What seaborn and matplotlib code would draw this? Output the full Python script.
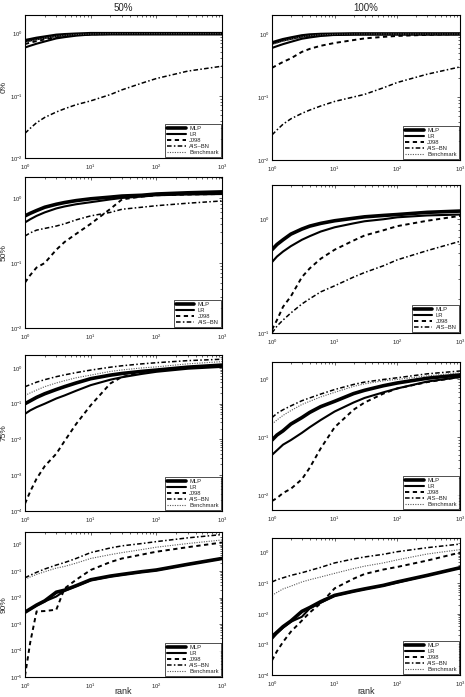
import pandas as pd
import seaborn as sns
import matplotlib
matplotlib.use('Agg')
import matplotlib.pyplot as plt
from matplotlib.ticker import LogLocator, NullFormatter

# values (rank on x, y on log scale)
ranks = [1, 1.2, 1.5, 2, 3, 4, 6, 10, 20, 30, 60, 100, 300, 1000]
col_titles = ['50%', '100%']
row_labels = ['0%', '50%', '75%', '90%']

# row 0%
mlp_0_50 = [0.77, 0.80, 0.84, 0.88, 0.94, 0.96, 0.98, 1.0, 1.0, 1.0, 1.0, 1.0, 1.0, 1.0]
lr_0_50 = [0.60, 0.64, 0.69, 0.75, 0.84, 0.88, 0.93, 0.97, 0.99, 1.0, 1.0, 1.0, 1.0, 1.0]
jj_0_50 = [0.68, 0.72, 0.76, 0.81, 0.88, 0.92, 0.95, 0.98, 0.99, 1.0, 1.0, 1.0, 1.0, 1.0]
ais_0_50 = [0.025, 0.03, 0.037, 0.045, 0.055, 0.062, 0.072, 0.083, 0.105, 0.125, 0.16, 0.19, 0.25, 0.30]
bench_0_50 = [0.72, 0.76, 0.80, 0.85, 0.91, 0.94, 0.97, 0.99, 1.0, 1.0, 1.0, 1.0, 1.0, 1.0]

mlp_0_100 = [0.72, 0.76, 0.81, 0.86, 0.93, 0.96, 0.98, 0.99, 1.0, 1.0, 1.0, 1.0, 1.0, 1.0]
lr_0_100 = [0.60, 0.64, 0.69, 0.75, 0.84, 0.88, 0.93, 0.97, 0.99, 1.0, 1.0, 1.0, 1.0, 1.0]
jj_0_100 = [0.29, 0.32, 0.36, 0.41, 0.52, 0.58, 0.65, 0.72, 0.80, 0.85, 0.90, 0.93, 0.97, 1.0]
ais_0_100 = [0.025, 0.03, 0.037, 0.045, 0.055, 0.062, 0.072, 0.085, 0.10, 0.11, 0.14, 0.17, 0.23, 0.30]
bench_0_100 = [0.68, 0.72, 0.77, 0.83, 0.90, 0.94, 0.97, 0.99, 1.0, 1.0, 1.0, 1.0, 1.0, 1.0]

# row 50%
mlp_50_50 = [0.53, 0.58, 0.64, 0.72, 0.80, 0.85, 0.91, 0.97, 1.03, 1.07, 1.10, 1.15, 1.20, 1.24]
lr_50_50 = [0.42, 0.47, 0.53, 0.60, 0.69, 0.74, 0.80, 0.86, 0.95, 1.0, 1.05, 1.10, 1.13, 1.15]
jj_50_50 = [0.05, 0.065, 0.085, 0.10, 0.16, 0.21, 0.28, 0.40, 0.68, 0.95, 1.05, 1.10, 1.13, 1.15]
ais_50_50 = [0.26, 0.29, 0.32, 0.34, 0.37, 0.40, 0.46, 0.53, 0.60, 0.67, 0.72, 0.76, 0.83, 0.90]

mlp_50_100 = [0.54, 0.60, 0.66, 0.74, 0.82, 0.87, 0.92, 0.97, 1.02, 1.05, 1.08, 1.10, 1.15, 1.18]
lr_50_100 = [0.42, 0.47, 0.52, 0.58, 0.66, 0.71, 0.78, 0.85, 0.92, 0.96, 1.0, 1.04, 1.08, 1.10]
jj_50_100 = [0.107, 0.13, 0.17, 0.21, 0.31, 0.37, 0.45, 0.54, 0.65, 0.72, 0.80, 0.87, 0.97, 1.07]
ais_50_100 = [0.10, 0.115, 0.13, 0.15, 0.18, 0.20, 0.23, 0.26, 0.31, 0.34, 0.39, 0.44, 0.53, 0.64]

# row 75%
mlp_75_50 = [0.10, 0.12, 0.15, 0.19, 0.25, 0.30, 0.38, 0.50, 0.63, 0.70, 0.80, 0.87, 1.05, 1.20]
lr_75_50 = [0.052, 0.065, 0.08, 0.10, 0.14, 0.17, 0.23, 0.33, 0.47, 0.55, 0.68, 0.78, 0.95, 1.07]
jj_75_50 = [1.6e-4, 3.5e-4, 8e-4, 0.0018, 0.004, 0.009, 0.027, 0.09, 0.37, 0.56, 0.75, 0.87, 1.05, 1.20]
ais_75_50 = [0.30, 0.34, 0.40, 0.47, 0.57, 0.64, 0.74, 0.87, 1.05, 1.15, 1.30, 1.40, 1.60, 1.75]
bench_75_50 = [0.17, 0.20, 0.24, 0.30, 0.38, 0.44, 0.53, 0.63, 0.80, 0.88, 1.0, 1.07, 1.30, 1.50]

mlp_75_100 = [0.09, 0.11, 0.13, 0.17, 0.22, 0.27, 0.34, 0.42, 0.57, 0.65, 0.78, 0.87, 1.05, 1.20]
lr_75_100 = [0.05, 0.06, 0.075, 0.09, 0.12, 0.15, 0.20, 0.28, 0.40, 0.48, 0.60, 0.70, 0.92, 1.10]
jj_75_100 = [0.008, 0.009, 0.011, 0.013, 0.019, 0.03, 0.065, 0.15, 0.30, 0.40, 0.57, 0.70, 0.90, 1.10]
ais_75_100 = [0.22, 0.26, 0.30, 0.35, 0.43, 0.48, 0.56, 0.67, 0.82, 0.90, 1.0, 1.07, 1.25, 1.40]
bench_75_100 = [0.17, 0.20, 0.24, 0.29, 0.37, 0.42, 0.50, 0.60, 0.76, 0.84, 0.95, 1.0, 1.15, 1.30]

# row 90%
mlp_90_50 = [0.0028, 0.0037, 0.0052, 0.0075, 0.016, 0.019, 0.028, 0.047, 0.065, 0.075, 0.095, 0.11, 0.18, 0.30]
lr_90_50 = [0.0028, 0.0036, 0.005, 0.0072, 0.011, 0.018, 0.027, 0.045, 0.063, 0.073, 0.093, 0.108, 0.18, 0.30]
jj_90_50 = [1.1e-5, 2e-4, 0.003, 0.0031, 0.0035, 0.022, 0.047, 0.11, 0.22, 0.30, 0.42, 0.54, 0.80, 1.20]
ais_90_50 = [0.056, 0.07, 0.09, 0.12, 0.17, 0.21, 0.30, 0.50, 0.75, 0.90, 1.10, 1.30, 1.80, 2.40]
bench_90_50 = [0.05, 0.06, 0.075, 0.095, 0.13, 0.15, 0.20, 0.30, 0.42, 0.50, 0.65, 0.80, 1.10, 1.50]

mlp_90_100 = [0.0018, 0.0025, 0.0038, 0.0058, 0.012, 0.016, 0.025, 0.04, 0.055, 0.065, 0.085, 0.11, 0.18, 0.32]
lr_90_100 = [0.0015, 0.0023, 0.0035, 0.0055, 0.008, 0.015, 0.023, 0.039, 0.054, 0.064, 0.084, 0.105, 0.18, 0.32]
jj_90_100 = [3e-4, 6e-4, 0.0012, 0.0026, 0.006, 0.011, 0.022, 0.068, 0.14, 0.20, 0.28, 0.34, 0.55, 1.0]
ais_90_100 = [0.11, 0.13, 0.15, 0.18, 0.22, 0.26, 0.33, 0.46, 0.62, 0.72, 0.88, 1.07, 1.45, 1.90]
bench_90_100 = [0.04, 0.05, 0.065, 0.08, 0.11, 0.13, 0.16, 0.21, 0.30, 0.36, 0.46, 0.58, 0.90, 1.25]

panels = {
    (0, 0): {'MLP': mlp_0_50, 'LR': lr_0_50, 'JJ98': jj_0_50, 'AIS–BN': ais_0_50, 'Benchmark': bench_0_50},
    (0, 1): {'MLP': mlp_0_100, 'LR': lr_0_100, 'JJ98': jj_0_100, 'AIS–BN': ais_0_100, 'Benchmark': bench_0_100},
    (1, 0): {'MLP': mlp_50_50, 'LR': lr_50_50, 'JJ98': jj_50_50, 'AIS–BN': ais_50_50},
    (1, 1): {'MLP': mlp_50_100, 'LR': lr_50_100, 'JJ98': jj_50_100, 'AIS–BN': ais_50_100},
    (2, 0): {'MLP': mlp_75_50, 'LR': lr_75_50, 'JJ98': jj_75_50, 'AIS–BN': ais_75_50, 'Benchmark': bench_75_50},
    (2, 1): {'MLP': mlp_75_100, 'LR': lr_75_100, 'JJ98': jj_75_100, 'AIS–BN': ais_75_100, 'Benchmark': bench_75_100},
    (3, 0): {'MLP': mlp_90_50, 'LR': lr_90_50, 'JJ98': jj_90_50, 'AIS–BN': ais_90_50, 'Benchmark': bench_90_50},
    (3, 1): {'MLP': mlp_90_100, 'LR': lr_90_100, 'JJ98': jj_90_100, 'AIS–BN': ais_90_100, 'Benchmark': bench_90_100},
}
ylims = {
    (0, 0): (1e-2, 2), (0, 1): (1e-2, 2),
    (1, 0): (1e-2, 2.1), (1, 1): (1e-1, 2),
    (2, 0): (1e-4, 2.3), (2, 1): (5.6e-3, 2),
    (3, 0): (1e-5, 3), (3, 1): (1e-4, 3),
}

styles = {
    'MLP': dict(linewidth=2.6, linestyle='-', color='black'),
    'LR': dict(linewidth=1.5, linestyle='-', color='black'),
    'JJ98': dict(linewidth=1.4, linestyle=(0, (2.2, 1.8)), color='black'),
    'AIS–BN': dict(linewidth=1.1, linestyle=(0, (3, 1.5, 1, 1.5)), color='black'),
    'Benchmark': dict(linewidth=0.8, linestyle=(0, (1, 1.2)), color='0.35'),
}

# panel boxes in pixels: left, top, right, bottom
W, H = 465, 697
boxes = {
    (0, 0): (25, 15, 222, 158), (0, 1): (272, 15, 460, 160),
    (1, 0): (25, 177, 222, 328), (1, 1): (272, 185, 460, 333),
    (2, 0): (25, 355, 222, 511), (2, 1): (272, 362, 460, 510),
    (3, 0): (25, 532, 222, 677), (3, 1): (272, 538, 460, 675),
}

sns.set_style('white')
plt.rcParams['font.family'] = ['Liberation Sans', 'DejaVu Sans']
plt.rcParams['mathtext.fontset'] = 'dejavusans'

fig = plt.figure(figsize=(W / 100, H / 100), dpi=100)

for (r, c), series in panels.items():
    l, t, rr, b = boxes[(r, c)]
    ax = fig.add_axes([l / W, 1 - b / H, (rr - l) / W, (b - t) / H])
    for name, vals in series.items():
        sns.lineplot(x=ranks, y=vals, ax=ax, label=name, **styles[name])
    ax.set_xscale('log')
    ax.set_yscale('log')
    ax.set_xlim(1, 1000)
    ax.set_ylim(*ylims[(r, c)])
    ax.yaxis.set_major_locator(LogLocator(base=10, numticks=12))
    ax.yaxis.set_minor_locator(LogLocator(base=10, subs=range(2, 10), numticks=12))
    ax.yaxis.set_minor_formatter(NullFormatter())
    ax.xaxis.set_minor_formatter(NullFormatter())
    ax.tick_params(which='both', direction='in', top=True, right=True, labelsize=4.2,
                   width=0.5)
    ax.tick_params(axis='y', pad=1.5)
    ax.tick_params(axis='x', pad=3.2)
    ax.tick_params(which='major', length=2.5)
    ax.tick_params(which='minor', length=1.3)
    for sp in ax.spines.values():
        sp.set_color('black')
        sp.set_linewidth(0.8)
    ax.set_xlabel('')
    ax.set_ylabel('')
    leg = ax.legend(loc='lower right', fontsize=4.2, frameon=True, fancybox=False,
                    handlelength=3.2, borderpad=0.3, labelspacing=0.15,
                    handletextpad=0.6, borderaxespad=0.25)
    leg.get_frame().set_edgecolor('black')
    leg.get_frame().set_linewidth(0.6)
    if r == 0:
        ax.set_title(col_titles[c], fontsize=7, pad=3)
    if c == 0:
        fig.text(4.5 / W, 1 - ((t + b) / 2) / H, row_labels[r], fontsize=6,
                 rotation=90, ha='center', va='center')
    if r == 3:
        fig.text(((l + rr) / 2) / W, 1 - 692 / H, 'rank', fontsize=6.5,
                 ha='center', va='center')

plt.savefig('out.png', dpi=100)
